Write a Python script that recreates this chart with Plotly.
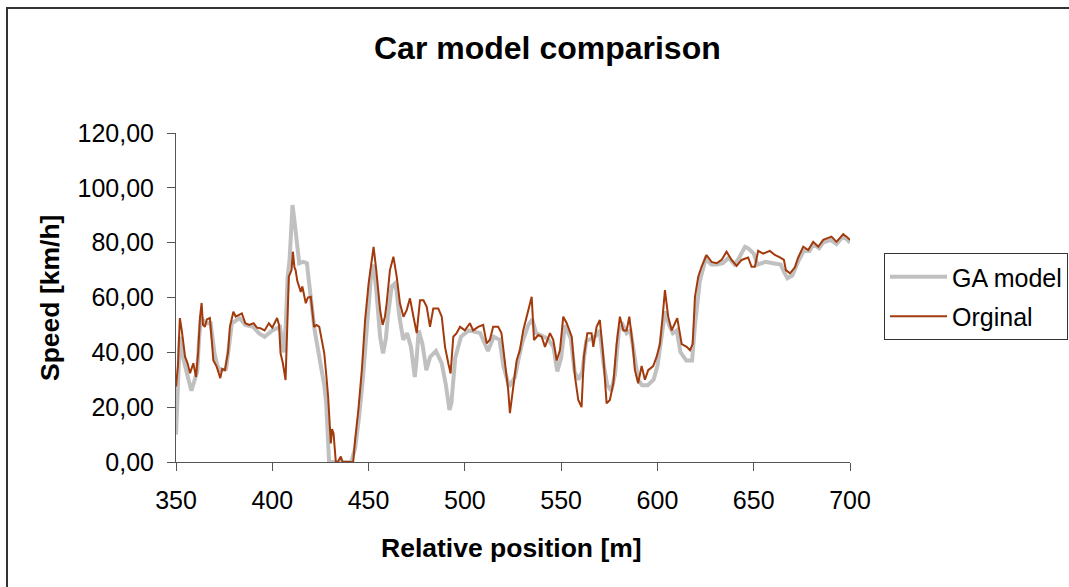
import plotly.graph_objects as go

# Original (measured) speed profile
orig_x = [350, 351, 352, 353, 354.7, 356, 357.3, 359, 360.4, 361.5, 362.5, 363.3, 364, 365, 366, 367.6,
          368.5, 369.4, 371, 373, 374, 375.4, 377, 378, 379.8, 381, 384.2, 386, 388, 390.3, 392, 393.8,
          396, 398.2, 400, 402.5, 403.5, 404.3, 405.5, 406.9, 407.8, 408.6, 410, 410.7, 411.5, 412.1,
          413, 413.9, 414.8, 415.6, 417.4, 418.5, 420, 421.7, 423, 424.4, 425.5, 427, 428, 429, 430.4,
          431, 431.8, 433, 434, 435.6, 436.5, 442, 443, 444.7, 446.5, 448.2, 450, 451.8, 452.6, 454,
          455, 456, 457.3, 458.5, 459.4, 461.1, 462.9, 464.6, 466.3, 468.1, 469.8, 471.5, 473.3, 475,
          476.7, 478.5, 480.2, 481.9, 483.6, 486.2, 488, 489.7, 491.4, 492.6, 494, 495.7, 497.5, 500,
          502.6, 504.3, 506.9, 509.5, 511.3, 513, 514.7, 517.3, 519, 520.8, 522.5, 523.4, 525.2, 526.9,
          528.6, 530.3, 532.1, 533.8, 534.7, 535.9, 538.1, 539.9, 541.6, 544.2, 545.9, 547.7, 549.4,
          551.1, 552.9, 555.5, 557.2, 558.9, 560.6, 561.8, 563.6, 565.8, 566.7, 568.4, 570.1, 571.9,
          573.6, 575.3, 577.1, 578.8, 580.5, 582.3, 584, 585.4, 587.1, 588.3, 590, 591.8, 593.5, 595.2,
          597.8, 599.6, 601.3, 602.7, 603.9, 605.6, 607.4, 609.1, 610.3, 612.6, 615.2, 616.9, 618.3,
          619.5, 621.2, 622.9, 625.5, 628.1, 630.7, 633.3, 635.9, 638.5, 641.1, 643.7, 647.1, 648.9,
          650.6, 652.3, 654.9, 658.4, 661, 663.6, 665.7, 666.7, 668.8, 671.4, 673.1, 675.7, 678.3,
          680.9, 683.5, 686.1, 690.4, 693, 696.5, 698.2, 700]
orig_y = [27.5, 35, 52.5, 48, 38.4, 36, 32.4, 36, 31, 40, 53, 58, 50, 49.3, 52, 52.5,
          45, 37, 35, 30.6, 34, 33.5, 40, 49.3, 54.8, 53, 54.2, 50.6, 50, 50.6, 49, 48.8,
          48, 50.6, 49, 52.5, 50, 39.6, 36, 29.9, 50, 67.6, 70, 76.7, 71, 70,
          66, 64, 62, 64, 57.9, 60, 60.3, 49.3, 50, 49.3, 45, 39.6, 32, 23.8, 6.8,
          12, 10.5, 0, 0, 2, 0, 0, 8, 19, 33.5, 51.8, 65, 76, 78.5, 70,
          62, 55.4, 50, 53, 57.9, 70, 74.9, 67.6, 57.9, 53, 55.4, 59.7, 53, 47,
          59, 59, 56.6, 49.3, 56, 56, 53, 42, 36, 32.3, 45.7, 47, 49.3, 48,
          50.6, 48, 49.3, 50, 43.3, 44.6, 49.3, 49.3, 47, 36, 26.3, 17.8, 28, 37,
          40.8, 48, 53, 57.9, 60.3, 44.5, 46.3, 45.7, 42, 47, 44.6, 37, 40.8,
          53, 50.6, 45.7, 31, 22.6, 20, 38.4, 47, 47, 42, 49.3, 51.8, 38.4,
          21.4, 22.6, 28.7, 43, 53, 48, 48, 53, 43, 33.5, 28.7, 35, 30, 33.5,
          35, 38.4, 43, 53, 62.7, 53, 48, 50.6, 52.5, 43, 42, 40.8, 43,
          60.3, 67.6, 71.2, 75.5, 73, 72.5, 73.7, 76.7, 73.7, 71.5, 73.7, 74.6, 71.2,
          71.2, 77, 76, 77, 75.5, 74.6, 73.7, 70, 68.8, 71, 74.6, 78.5, 77.3,
          80.3, 78.5, 81, 82.2, 80.3, 83.1, 82.2, 81]

# GA model speed profile
ga_x = [350, 351, 352, 353, 355, 356.5, 358, 359.5, 361, 362, 363, 365, 368, 370, 371.5, 373, 376,
        377.5, 379, 383, 386, 390, 393, 396, 400, 404, 405, 406, 407, 408, 409, 410.5, 411.5, 412,
        413, 414, 416, 418, 419, 420, 422, 425, 427, 428, 429, 429.5, 437, 441, 443, 445, 447,
        448.5, 450, 451.5, 452.5, 454, 456, 457.5, 459, 460, 462, 463.5, 464.5, 466, 468, 470, 472,
        474, 475, 476, 478, 480, 482, 485, 488, 490, 492, 493, 495, 498, 502, 508, 512, 515, 518,
        520, 523, 526, 528, 530, 533, 535, 537, 540, 543, 546, 548, 550, 552, 555, 557, 559, 561,
        563, 566, 568, 570, 572, 574, 576, 578, 580, 582, 584, 586, 588, 590, 592, 595, 598, 600,
        602, 604, 606, 608, 610, 612, 615, 618, 619.5, 621, 622, 625, 628, 631, 634, 637, 640,
        642, 644, 645.5, 647, 650, 652, 656, 660, 664, 666, 667.5, 670, 673, 676, 679, 681, 684,
        686, 690, 693, 696, 698, 700]
ga_y = [10, 25, 45.7, 40, 33.5, 30, 26, 30, 33, 45, 53, 50.6, 50.6, 39.6, 35, 33.5, 34,
        42, 50.6, 52.5, 50, 49.3, 47, 45.7, 48, 49.3, 45, 40, 50, 67.6, 74, 93.7, 88, 84.6,
        78, 72.5, 73, 72.5, 66, 60, 48, 36, 28, 21.5, 10, 0, 0, 0, 5, 16, 30,
        43, 58, 70, 72, 62.7, 45.7, 39.6, 45, 53, 64, 65, 62.7, 53, 44.6, 47, 42,
        31, 38, 48, 43, 33.5, 38.4, 40.5, 36, 28.7, 19, 21.5, 38, 45.7, 48, 47, 40.5, 45.7, 44.6,
        35, 27.5, 31, 38, 44, 50, 52, 47, 46, 45, 42, 33, 38, 50, 45, 33, 30, 33,
        44, 45, 46, 48, 36, 28, 26, 32, 48, 50, 47, 48, 38, 30, 28, 28, 30, 35,
        45, 55, 50, 47, 48, 40, 37, 37, 50, 60, 66, 74, 72, 72, 72.5, 74.5, 72,
        74, 77, 78.5, 78, 76, 72, 73, 72.5, 72, 69, 67, 68, 73, 77, 77, 79.5, 78,
        80, 81, 79.5, 82, 81.5, 80]

y_tickvals = [0, 20, 40, 60, 80, 100, 120]
y_ticktext = ["0,00", "20,00", "40,00", "60,00", "80,00", "100,00", "120,00"]
x_tickvals = [350, 400, 450, 500, 550, 600, 650, 700]
x_ticktext = ["350", "400", "450", "500", "550", "600", "650", "700"]

FONT = "Liberation Sans, Arial, sans-serif"

fig = go.Figure()
fig.add_trace(go.Scatter(x=ga_x, y=ga_y, mode="lines", name="GA model",
                         line=dict(color="#C0C0C0", width=4), legendgroup="a"))
fig.add_trace(go.Scatter(x=orig_x, y=orig_y, mode="lines", name="Orginal",
                         line=dict(color="#A33A0C", width=2), legendgroup="b"))

axis_common = dict(showgrid=False, zeroline=False, showline=True, linecolor="#555555", linewidth=1,
                   ticks="outside", ticklen=8, tickcolor="#555555", tickwidth=1,
                   tickfont=dict(family=FONT, size=25, color="#000000"))

fig.update_layout(
    width=1069, height=587,
    margin=dict(l=176, r=219, t=133, b=125, autoexpand=False),
    paper_bgcolor="white", plot_bgcolor="white",
    font=dict(family=FONT, color="#000000"),
    showlegend=True,
    legend=dict(x=(884 - 176) / 674, y=(462 - 253) / 329, xanchor="left", yanchor="top",
                bordercolor="#333333", borderwidth=1, bgcolor="white",
                font=dict(family=FONT, size=25), tracegroupgap=4,
                itemwidth=57, traceorder="grouped"),
    xaxis=dict(range=[350, 700], tickvals=x_tickvals, ticktext=x_ticktext,
               ticklabelstandoff=8, **axis_common),
    yaxis=dict(range=[0, 120], tickvals=y_tickvals, ticktext=y_ticktext,
               ticklabelstandoff=8, **axis_common),
)

# Chart title and axis titles
fig.add_annotation(text="<b>Car model comparison</b>", xref="paper", yref="paper",
                   x=(547 - 176) / 674, y=(462 - 48) / 329, showarrow=False,
                   font=dict(family=FONT, size=32), xanchor="center", yanchor="middle")
fig.add_annotation(text="<b>Relative position [m]</b>", xref="paper", yref="paper",
                   x=(511 - 176) / 674, y=(462 - 548) / 329, showarrow=False,
                   font=dict(family=FONT, size=26.5), xanchor="center", yanchor="middle")
fig.add_annotation(text="<b>Speed [km/h]</b>", xref="paper", yref="paper",
                   x=(50 - 176) / 674, y=(462 - 298) / 329, showarrow=False, textangle=-90,
                   font=dict(family=FONT, size=26.5), xanchor="center", yanchor="middle")

# Outer chart frame
fig.add_shape(type="rect", xref="paper", yref="paper",
              x0=(7 - 176) / 674, x1=(1200 - 176) / 674,
              y0=(462 - 700) / 329, y1=(462 - 8) / 329,
              line=dict(color="#333333", width=2), fillcolor="rgba(0,0,0,0)", layer="below")

fig.write_html("out.html")
